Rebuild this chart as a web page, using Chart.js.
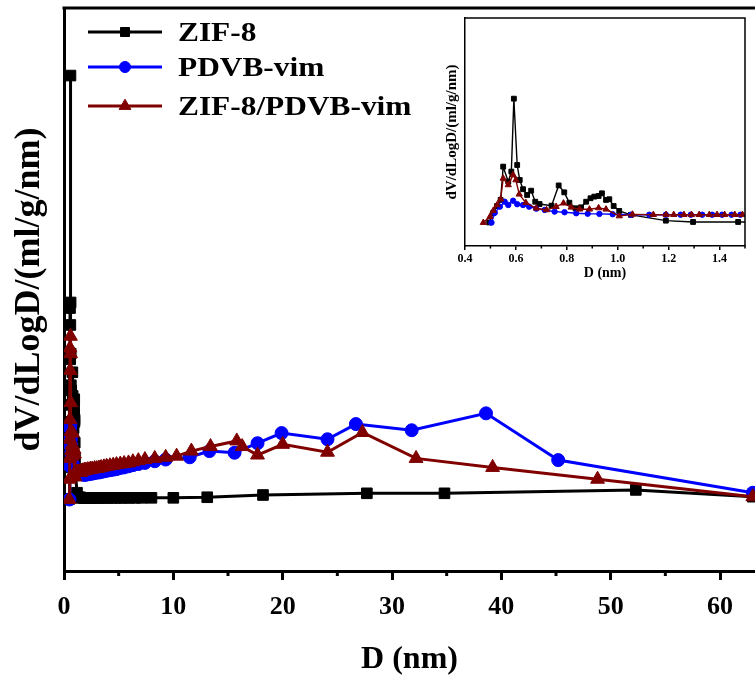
<!DOCTYPE html>
<html>
<head>
<meta charset="utf-8">
<title>Pore size distribution</title>
<script src="https://cdn.jsdelivr.net/npm/chart.js@4.4.1/dist/chart.umd.min.js"></script>
<style>
  html, body { margin: 0; padding: 0; background: #ffffff; }
  #wrap { position: relative; width: 755px; height: 679px; overflow: hidden; background: #ffffff; }
  #main { position: absolute; left: 0; top: 0; }
  #inset { position: absolute; left: 440px; top: 0; }
</style>
</head>
<body>
<div id="wrap">
  <canvas id="main" width="755" height="679"></canvas>
  <canvas id="inset" width="315" height="300"></canvas>
</div>
<script>
// Pore diameter D (nm) and dV/dLogD (arbitrary units) for each sample
const zifD = [0.495, 0.51, 0.526, 0.54, 0.55, 0.57, 0.582, 0.592, 0.605, 0.615, 0.628, 0.644, 0.66, 0.676, 0.693,
  0.74, 0.768, 0.79, 0.81, 0.834, 0.856, 0.876, 0.893, 0.908, 0.925, 0.938, 0.954, 0.967, 0.984, 1.006, 1.052,
  1.189, 1.296, 1.473,
  1.6, 1.72, 1.85, 2.0, 2.15, 2.3, 2.5, 2.7, 2.9, 3.15, 3.4, 3.7, 4.0, 4.35, 4.7, 5.1, 5.5, 6.0, 6.5, 7.1,
  8.0, 10.0, 13.1, 18.2, 27.7, 34.8, 52.3, 63.0];
const zifV = [12.8, 18.4, 22.8, 26.5, 46.7, 37.6, 43.7, 88.0, 47.7, 38.6, 33.0, 29.5, 32.1, 25.4, 24.0,
  23.0, 35.3, 31.1, 24.8, 21.4, 22.0, 25.4, 27.5, 28.5, 28.9, 30.5, 26.5, 26.9, 22.8, 19.8, 17.4,
  13.9, 13.1, 13.1,
  13.0, 13.0, 13.0, 13.0, 13.0, 13.0, 13.0, 13.0, 13.0, 13.0, 13.0, 13.0, 13.0, 13.0, 13.0, 13.0, 13.0, 13.0, 13.0, 13.0,
  13.0, 13.0, 13.1, 13.5, 13.8, 13.8, 14.4, 13.2];

const pdvbD = [0.504, 0.517, 0.537, 0.556, 0.57, 0.589, 0.605, 0.628, 0.652, 0.68, 0.713, 0.752, 0.791, 0.837,
  0.882, 0.928, 0.98, 1.052, 1.124, 1.189, 1.247, 1.287, 1.332, 1.371, 1.41, 1.447, 1.482,
  1.6, 1.7, 1.8, 1.9, 2.0, 2.15, 2.3, 2.45, 2.6, 2.8, 3.0, 3.2, 3.4, 3.65, 3.9, 4.2, 4.5, 4.8, 5.15, 5.5, 5.9,
  6.3, 6.8, 7.4, 8.3, 9.3,
  11.5, 13.3, 15.6, 17.7, 19.9, 24.1, 26.7, 31.8, 38.6, 45.2, 63.0];
const pdvbV = [12.7, 18.7, 22.4, 25.4, 23.4, 26.0, 23.9, 23.4, 22.4, 21.2, 20.4, 19.4, 19.0, 18.4,
  18.1, 18.0, 17.8, 17.5, 17.5, 17.5, 17.5, 17.5, 17.5, 17.5, 17.5, 17.5, 17.5,
  17.3, 17.2, 17.1, 17.1, 17.1, 17.2, 17.2, 17.3, 17.3, 17.4, 17.5, 17.5, 17.6, 17.7, 17.8, 17.9, 18.0, 18.1, 18.3, 18.4, 18.6,
  18.8, 19.0, 19.2, 19.5, 19.8,
  20.2, 21.3, 21.0, 22.7, 24.5, 23.4, 26.1, 25.0, 28.0, 19.7, 13.9];

const compD = [0.472, 0.498, 0.511, 0.526, 0.54, 0.55, 0.57, 0.589, 0.6, 0.613, 0.639, 0.68, 0.72, 0.758, 0.787,
  0.817, 0.85, 0.889, 0.925, 0.954, 1.006, 1.058, 1.14, 1.19, 1.22, 1.26, 1.29, 1.32, 1.36, 1.39, 1.42, 1.46, 1.49,
  1.6, 1.7, 1.8, 1.9, 2.0, 2.15, 2.3, 2.45, 2.6, 2.8, 3.0, 3.2, 3.4, 3.65, 3.9, 4.2, 4.5, 4.8, 5.15, 5.5, 5.9,
  6.3, 6.8, 7.4, 8.3, 9.3, 10.3,
  11.65, 13.4, 15.8, 16.3, 17.7, 20.0, 24.1, 27.3, 32.2, 39.2, 48.8, 63.0];
const compV = [12.7, 16.3, 20.0, 23.4, 26.9, 39.6, 35.6, 41.7, 38.6, 29.9, 24.8, 21.4, 20.4, 22.4, 24.5,
  22.0, 20.8, 20.8, 21.6, 20.8, 16.7, 17.7, 17.5, 17.5, 17.5, 17.5, 17.5, 17.5, 17.5, 17.5, 17.5, 17.5, 17.5,
  17.7, 17.8, 17.8, 17.9, 17.9, 18.0, 18.0, 18.1, 18.1, 18.2, 18.2, 18.3, 18.4, 18.5, 18.6, 18.7, 18.8, 18.9, 19.0, 19.1, 19.2,
  19.4, 19.6, 19.8, 20.0, 20.2, 20.4,
  21.3, 22.1, 23.1, 22.1, 20.6, 22.5, 21.1, 24.6, 20.0, 18.4, 16.3, 13.2];

const seriesNames = ['ZIF-8', 'PDVB-vim', 'ZIF-8/PDVB-vim'];
const mainTicks = [0, 10, 20, 30, 40, 50, 60];
const mainMinorTicks = [5, 15, 25, 35, 45, 55];
const insetTicks = [0.4, 0.6, 0.8, 1.0, 1.2, 1.4];
const insetMinorTicks = [0.5, 0.7, 0.9, 1.1, 1.3, 1.5];

const SERIF = '"Liberation Serif", "Times New Roman", serif';

function pts(xs, ys) { return xs.map((x, i) => ({ x: x, y: ys[i] })); }

function series(label, xs, ys, color, style, radius, width, order) {
  return {
    label: label,
    data: pts(xs, ys),
    borderColor: color,
    backgroundColor: color,
    pointBackgroundColor: color,
    pointBorderColor: color,
    pointBorderWidth: 1,
    pointStyle: style,
    pointRadius: radius,
    borderWidth: width,
    tension: 0,
    order: order
  };
}

// Frame line along the top of the plot and shorter minor ticks on the x axis
function framePlugin(lineW, minorList, minorLen, closeBox) {
  return {
    id: 'frame',
    afterDatasetsDraw(chart) {
      const { ctx, chartArea: a } = chart;
      const xs = chart.scales.x;
      ctx.save();
      ctx.strokeStyle = '#000';
      ctx.lineWidth = lineW;
      ctx.beginPath();
      ctx.moveTo(a.left - lineW / 2, a.top);
      ctx.lineTo(a.right + lineW / 2, a.top);
      if (closeBox) {
        ctx.moveTo(a.right, a.top);
        ctx.lineTo(a.right, a.bottom);
      }
      ctx.stroke();
      ctx.beginPath();
      minorList.forEach(v => {
        const px = xs.getPixelForValue(v);
        ctx.moveTo(px, a.bottom);
        ctx.lineTo(px, a.bottom + minorLen);
      });
      ctx.stroke();
      ctx.restore();
    }
  };
}

// Series key in the upper-left corner of the main plot
const keyPlugin = {
  id: 'seriesKey',
  afterDraw(chart) {
    const ctx = chart.ctx;
    const rows = [32, 67, 106];
    chart.data.datasets.forEach((ds, i) => {
      const y = rows[i];
      ctx.save();
      ctx.strokeStyle = ds.borderColor;
      ctx.lineWidth = 3;
      ctx.beginPath();
      ctx.moveTo(88, y);
      ctx.lineTo(162, y);
      ctx.stroke();
      ctx.fillStyle = ds.pointBackgroundColor;
      ctx.strokeStyle = ds.pointBorderColor;
      ctx.lineWidth = 1;
      Chart.helpers.drawPoint(ctx, { pointStyle: ds.pointStyle, radius: ds.pointRadius * 0.85, rotation: 0, borderWidth: 1 }, 125, y);
      ctx.fillStyle = '#000';
      ctx.font = 'bold 28px ' + SERIF;
      ctx.textBaseline = 'middle';
      ctx.textAlign = 'left';
      ctx.translate(178, y + 2);
      ctx.scale(1.12, 1);
      ctx.fillText(seriesNames[i], 0, 0);
      ctx.restore();
    });
  }
};

const mainChart = new Chart(document.getElementById('main'), {
  type: 'line',
  data: {
    datasets: [
      series(seriesNames[0], zifD, zifV, '#000000', 'rect', 7.5, 3, 3),
      series(seriesNames[1], pdvbD, pdvbV, '#0000ff', 'circle', 6.5, 3, 2),
      series(seriesNames[2], compD, compV, '#800000', 'triangle', 8, 3, 1)
    ]
  },
  options: {
    responsive: false,
    animation: false,
    devicePixelRatio: 1,
    layout: { autoPadding: false, padding: { top: 8, left: 0, right: 0, bottom: 0 } },
    plugins: { legend: { display: false }, tooltip: { enabled: false } },
    scales: {
      x: {
        type: 'linear',
        min: 0,
        max: 63.2,
        afterBuildTicks(scale) { scale.ticks = mainTicks.map(v => ({ value: v })); },
        afterFit(scale) { scale.height = 108; },
        border: { display: true, color: '#000', width: 3 },
        grid: { display: true, drawOnChartArea: false, drawTicks: true, tickLength: 9, tickWidth: 3, tickColor: '#000', lineWidth: 3, color: '#000' },
        ticks: { color: '#000', padding: 12, font: { family: SERIF, size: 26, weight: 'bold' }, maxRotation: 0, autoSkip: false },
        title: { display: true, text: 'D (nm)', color: '#000', font: { family: SERIF, size: 32, weight: 'bold', lineHeight: 1 }, padding: { top: 0, bottom: 3 } }
      },
      y: {
        type: 'linear',
        min: 0,
        max: 100,
        afterFit(scale) { scale.width = 64; },
        border: { display: true, color: '#000', width: 3 },
        grid: { display: false },
        ticks: { display: false },
        title: { display: true, text: 'dV/dLogD/(ml/g/nm)', color: '#000', font: { family: SERIF, size: 36, weight: 'bold', lineHeight: 1 }, padding: { top: 12, bottom: 0 } }
      }
    }
  },
  plugins: [framePlugin(3, mainMinorTicks, 5, false), keyPlugin]
});

const insetChart = new Chart(document.getElementById('inset'), {
  type: 'line',
  data: {
    datasets: [
      series(seriesNames[0], zifD, zifV, '#000000', 'rect', 3.4, 1.4, 3),
      series(seriesNames[1], pdvbD, pdvbV, '#0000ff', 'circle', 2.7, 1.4, 2),
      series(seriesNames[2], compD, compV, '#800000', 'triangle', 3.6, 1.4, 1)
    ]
  },
  options: {
    responsive: false,
    animation: false,
    devicePixelRatio: 1,
    layout: { autoPadding: false, padding: { top: 18, left: 0, right: 10, bottom: 0 } },
    plugins: { legend: { display: false }, tooltip: { enabled: false } },
    scales: {
      x: {
        type: 'linear',
        min: 0.4,
        max: 1.5,
        afterBuildTicks(scale) { scale.ticks = insetTicks.map(v => ({ value: v })); },
        afterFit(scale) { scale.height = 54; },
        border: { display: true, color: '#000', width: 1.5 },
        grid: { display: true, drawOnChartArea: false, drawTicks: true, tickLength: 4, tickWidth: 1.5, tickColor: '#000', lineWidth: 1.5, color: '#000' },
        ticks: { color: '#000', padding: 2, font: { family: SERIF, size: 12, weight: 'bold' }, maxRotation: 0, autoSkip: false,
          callback: v => Number(v).toFixed(1) },
        title: { display: true, text: 'D (nm)', color: '#000', font: { family: SERIF, size: 14, weight: 'bold', lineHeight: 1 }, padding: { top: 0, bottom: 20 } }
      },
      y: {
        type: 'linear',
        min: -1.5,
        max: 137,
        afterFit(scale) { scale.width = 25; },
        border: { display: true, color: '#000', width: 1.5 },
        grid: { display: false },
        ticks: { display: false },
        title: { display: true, text: 'dV/dLogD/(ml/g/nm)', color: '#000', font: { family: SERIF, size: 15, weight: 'bold', lineHeight: 1 }, padding: { top: 5, bottom: 0 } }
      }
    }
  },
  plugins: [
    {
      id: 'insetBackground',
      beforeDraw(chart) {
        const { ctx, chartArea: a } = chart;
        ctx.save();
        ctx.fillStyle = '#ffffff';
        ctx.fillRect(a.left, a.top, a.right - a.left, a.bottom - a.top);
        ctx.restore();
      }
    },
    framePlugin(1.5, insetMinorTicks, 2.5, true)
  ]
});
</script>
</body>
</html>
